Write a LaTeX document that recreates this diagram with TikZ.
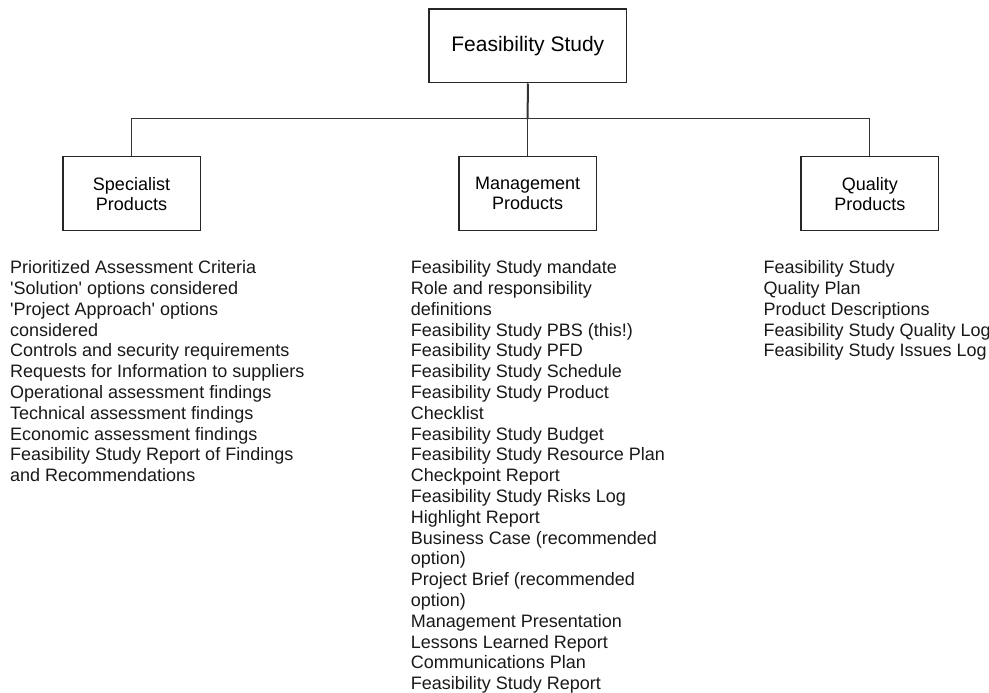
\documentclass[tikz,border=0pt]{standalone}
\usepackage{fontspec}
\setmainfont{Liberation Sans}[Ligatures=TeXOff]
\begin{document}
\begin{tikzpicture}[x=1pt,y=-1pt,
  boxstyle/.style={draw=black!85, line width=1.5pt, minimum width=137.5pt, minimum height=74pt, align=center, inner sep=0pt, font=\fontsize{18}{20}\selectfont},
  topstyle/.style={draw=black!85, line width=1.5pt, minimum width=197.5pt, minimum height=73.5pt, align=center, inner sep=0pt, font=\fontsize{21}{25}\selectfont},
  liststyle/.style={anchor=north west, align=left, inner sep=0pt, font=\fontsize{18}{20.8}\selectfont, text=black!90},
  conn/.style={draw=black!80, line width=1pt}
]
\useasboundingbox (0,0) rectangle (989,693);
\node[topstyle] (top) at (527.8,46) {Feasibility Study};
\node[boxstyle] (spec) at (131.5,193.7) {Specialist\\Products};
\node[boxstyle] (mgmt) at (527.7,193.7) {Management\\Products};
\node[boxstyle] (qual) at (869.9,193.7) {Quality\\Products};
\coordinate (bus) at (527.7,119);
\draw[conn, line width=2pt] (top.south) -- (bus);
\draw[conn] (spec.north) -- (spec.north |- bus) -- (qual.north |- bus) -- (qual.north);
\draw[conn] (mgmt.north) -- (bus);
\node[liststyle] (speclist) at (10,259.5) {\rule{0pt}{14pt}Prioritized Assessment Criteria\\
'Solution' options considered\\
'Project Approach' options\\
considered\\
Controls and security requirements\\
Requests for Information to suppliers\\
Operational assessment findings\\
Technical assessment findings\\
Economic assessment findings\\
Feasibility Study Report of Findings\\
and Recommendations};
\node[liststyle] (mgmtlist) at (410.7,259.5) {\rule{0pt}{14pt}Feasibility Study mandate\\
Role and responsibility\\
definitions\\
Feasibility Study PBS (this!)\\
Feasibility Study PFD\\
Feasibility Study Schedule\\
Feasibility Study Product\\
Checklist\\
Feasibility Study Budget\\
Feasibility Study Resource Plan\\
Checkpoint Report\\
Feasibility Study Risks Log\\
Highlight Report\\
Business Case (recommended\\
option)\\
Project Brief (recommended\\
option)\\
Management Presentation\\
Lessons Learned Report\\
Communications Plan\\
Feasibility Study Report};
\node[liststyle] (quallist) at (763.3,259.5) {\rule{0pt}{14pt}Feasibility Study\\
Quality Plan\\
Product Descriptions\\
Feasibility Study Quality Log\\
Feasibility Study Issues Log};
\end{tikzpicture}
\end{document}
